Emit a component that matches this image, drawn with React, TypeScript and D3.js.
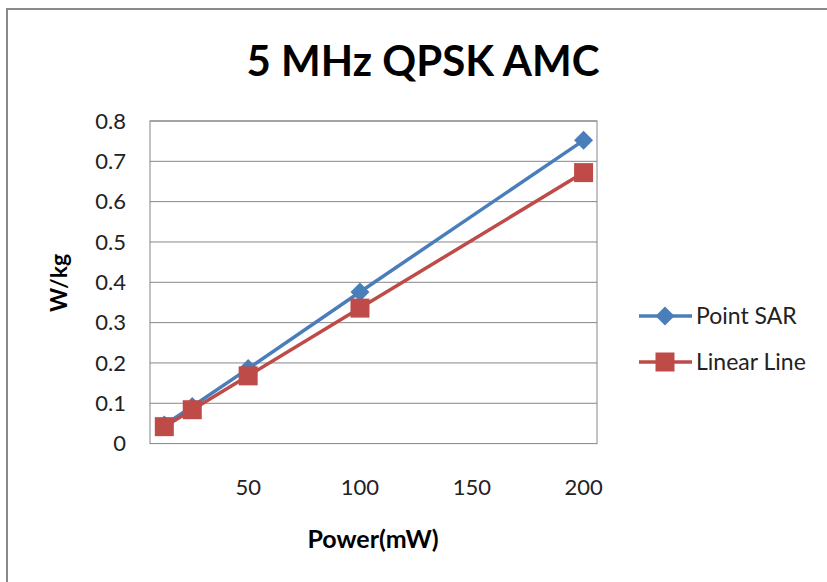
import * as d3 from "d3";
import { useEffect, useRef } from "react";

const powers = [12.5, 25, 50, 100, 200];
const pointSar = [0.046, 0.092, 0.186, 0.376, 0.752];
const linearLine = [0.042, 0.084, 0.168, 0.336, 0.672];
const xTicks = [50, 100, 150, 200];
const yTicks = [0, 0.1, 0.2, 0.3, 0.4, 0.5, 0.6, 0.7, 0.8];

const FONT = "Lato, 'Open Sans', sans-serif";
const BLUE = "#4A7EBB";
const RED = "#BE4B48";

// diamond: square turned 45 degrees, r = half diagonal
const diamond = (r: number) => `M0,${-r}L${r},0L0,${r}L${-r},0Z`;
const square = (h: number) => `M${-h},${-h}H${h}V${h}H${-h}Z`;

const App = () => {
  const ref = useRef<SVGSVGElement>(null);

  useEffect(() => {
    const svg = d3.select(ref.current);
    const width = 827;
    const height = 582;
    svg.attr("width", width).attr("height", height);

    const left = 150;
    const right = 597;
    const top = 121;
    const bottom = 443.6;

    const x = d3.scaleLinear().domain([6.1, 206]).range([left, right]);
    const y = d3.scaleLinear().domain([0, 0.8]).range([bottom, top]);

    // outer chart border
    svg
      .append("rect")
      .attr("x", 7)
      .attr("y", 9)
      .attr("width", 900)
      .attr("height", 700)
      .attr("fill", "white")
      .attr("stroke", "#898989")
      .attr("stroke-width", 2);

    // title
    svg
      .append("text")
      .attr("x", 423)
      .attr("y", 76)
      .attr("text-anchor", "middle")
      .attr("font-family", FONT)
      .attr("font-weight", "bold")
      .attr("font-size", 42)
      .text("5 MHz QPSK AMC");

    // gridlines
    svg
      .append("g")
      .selectAll("line")
      .data(yTicks.slice(1))
      .join("line")
      .attr("x1", left)
      .attr("x2", right)
      .attr("y1", (d) => y(d))
      .attr("y2", (d) => y(d))
      .attr("stroke", "#868686")
      .attr("stroke-width", 1);

    // plot border
    svg
      .append("rect")
      .attr("x", left)
      .attr("y", top)
      .attr("width", right - left)
      .attr("height", bottom - top)
      .attr("fill", "none")
      .attr("stroke", "#868686")
      .attr("stroke-width", 1);

    // y tick labels
    svg
      .append("g")
      .selectAll("text")
      .data(yTicks)
      .join("text")
      .attr("x", 126)
      .attr("y", (d) => y(d))
      .attr("dy", "0.35em")
      .attr("text-anchor", "end")
      .attr("font-family", FONT)
      .attr("font-size", 22)
      .attr("fill", "#222")
      .text((d) => (d === 0 ? "0" : d3.format(".1f")(d)));

    // x tick labels
    svg
      .append("g")
      .selectAll("text")
      .data(xTicks)
      .join("text")
      .attr("x", (d) => x(d))
      .attr("y", 487)
      .attr("dy", "0.35em")
      .attr("text-anchor", "middle")
      .attr("font-family", FONT)
      .attr("font-size", 22)
      .attr("fill", "#222")
      .text((d) => d);

    // axis titles
    svg
      .append("text")
      .attr("x", 373)
      .attr("y", 539)
      .attr("dy", "0.35em")
      .attr("text-anchor", "middle")
      .attr("font-family", FONT)
      .attr("font-weight", "bold")
      .attr("font-size", 25)
      .text("Power(mW)");

    svg
      .append("text")
      .attr("transform", "translate(59,283) rotate(-90)")
      .attr("dy", "0.35em")
      .attr("text-anchor", "middle")
      .attr("font-family", FONT)
      .attr("font-weight", "bold")
      .attr("font-size", 23)
      .text("W/kg");

    const line = d3
      .line<[number, number]>()
      .x((d) => x(d[0]))
      .y((d) => y(d[1]));

    const series = [
      { name: "Point SAR", values: pointSar, color: BLUE, marker: diamond(9.5) },
      { name: "Linear Line", values: linearLine, color: RED, marker: square(9.5) },
    ];

    series.forEach((s) => {
      const pts = powers.map((p, i) => [p, s.values[i]] as [number, number]);
      svg
        .append("path")
        .attr("d", line(pts))
        .attr("fill", "none")
        .attr("stroke", s.color)
        .attr("stroke-width", 3.5);
      svg
        .append("g")
        .selectAll("path")
        .data(pts)
        .join("path")
        .attr("transform", (d) => `translate(${x(d[0])},${y(d[1])})`)
        .attr("d", s.marker)
        .attr("fill", s.color);
    });

    // legend
    series.forEach((s, i) => {
      const ly = 316 + i * 46;
      const g = svg.append("g").attr("transform", `translate(0,${ly})`);
      g.append("line")
        .attr("x1", 639)
        .attr("x2", 692)
        .attr("y1", 0)
        .attr("y2", 0)
        .attr("stroke", s.color)
        .attr("stroke-width", 3.5);
      g.append("path")
        .attr("transform", "translate(665,0)")
        .attr("d", s.marker)
        .attr("fill", s.color);
      g.append("text")
        .attr("x", 696)
        .attr("y", 0)
        .attr("dy", "0.35em")
        .attr("font-family", FONT)
        .attr("font-size", 23)
        .attr("fill", "#222")
        .text(s.name);
    });

    return () => {
      svg.selectAll("*").remove();
    };
  }, []);

  return <svg ref={ref} style={{ position: "absolute", left: 0, top: 0 }}></svg>;
};

export default App;
